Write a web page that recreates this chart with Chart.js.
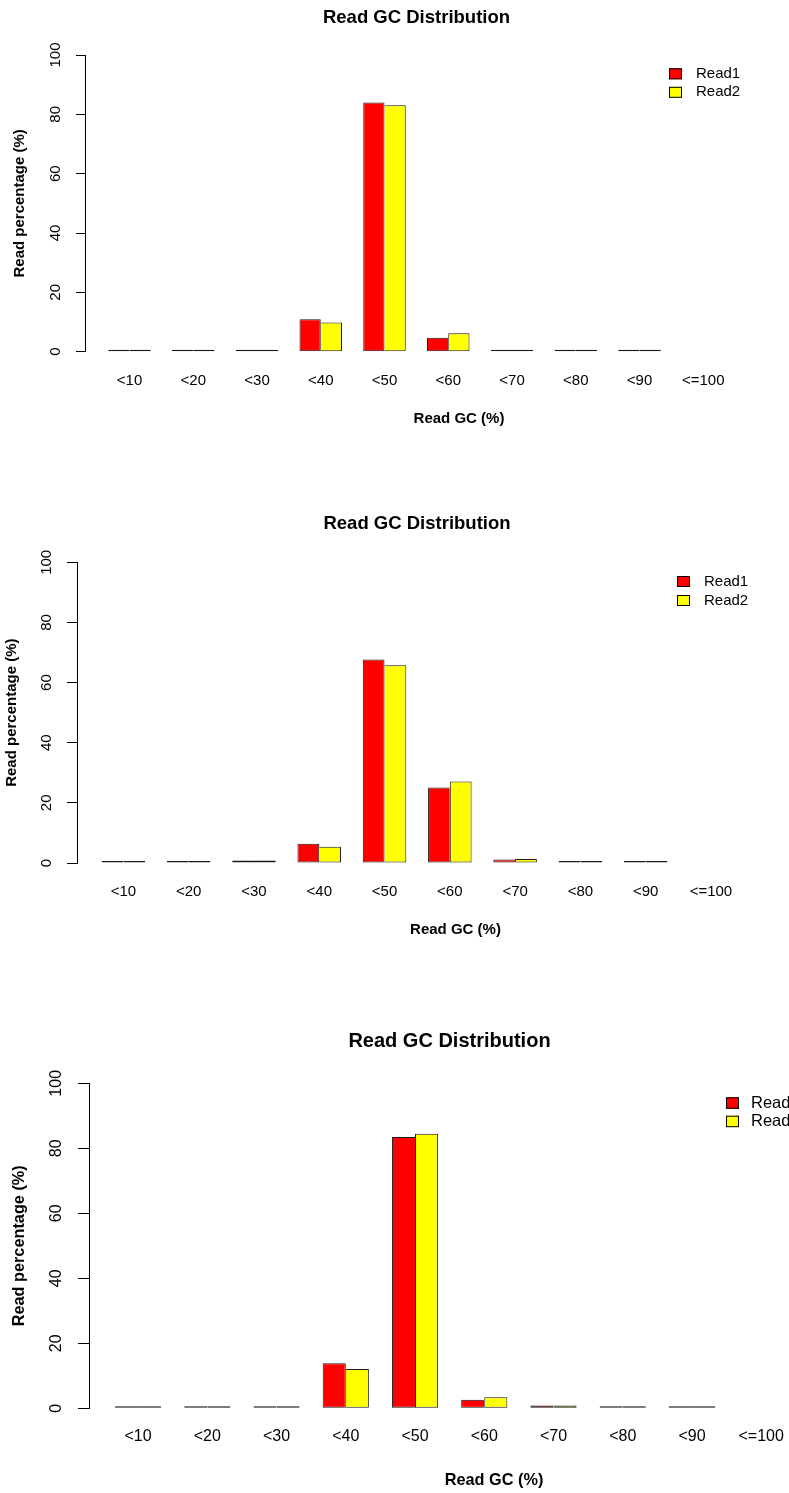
<!DOCTYPE html>
<html>
<head>
<meta charset="utf-8">
<script src="https://cdn.jsdelivr.net/npm/chart.js@4.4.1/dist/chart.umd.min.js"></script>
<style>
  html, body { margin: 0; padding: 0; background: #fff; overflow: hidden; width: 789px; height: 1493px; }
  .panel { position: absolute; left: 0; }
  canvas { display: block; }
</style>
</head>
<body>
<div class="panel" id="p1"><canvas id="c1"></canvas></div>
<div class="panel" id="p2"><canvas id="c2"></canvas></div>
<div class="panel" id="p3"><canvas id="c3"></canvas></div>
<script>
// GC-content bins shared by all three runs
const gcBins = ['<10', '<20', '<30', '<40', '<50', '<60', '<70', '<80', '<90', '<=100'];
const seriesNames = ['Read1', 'Read2'];
const yTicks = [0, 20, 40, 60, 80, 100];

// Percentage of reads per GC bin (last bin has no reads recorded)
const run1Read1 = [0.1, 0.15, 0.35, 10.9, 84.0, 4.7, 0.35, 0.05, 0.05, null];
const run1Read2 = [0.15, 0.2, 0.4, 9.8, 83.1, 6.2, 0.3, 0.05, 0.05, null];
const run2Read1 = [0.1, 0.1, 0.8, 6.4, 67.7, 25.1, 1.2, 0.05, 0.05, null];
const run2Read2 = [0.1, 0.2, 0.8, 5.4, 65.8, 27.1, 1.3, 0.05, 0.05, null];
const run3Read1 = [0.1, 0.15, 0.35, 13.9, 83.5, 2.6, 0.9, 0.05, 0.05, null];
const run3Read2 = [0.15, 0.2, 0.35, 12.1, 84.5, 3.4, 0.9, 0.05, 0.05, null];

const FAMILY = "'Liberation Sans', Arial, Helvetica, sans-serif";
Chart.defaults.font.family = FAMILY;
Chart.defaults.color = '#000';

// Page layout of each panel (pixels)
const layouts = [
  { id: 'c1', top: 0, width: 833, height: 428, chartLeft: 85, unit0: 87, unit: 21.25, tickLen: 9,
    tickSize: 15, titleSize: 18.5, axisSize: 15, titlePadTop: 6.9, titlePadBottom: 25.9,
    xAxisH: 76.3, xTickPad: 20.3, yTickPad: 7.5, yTitlePad: 11,
    legend: { x: 669, y: 68.3, w: 13, h: 11, gap: 18.5, textX: 696, size: 15 } },
  { id: 'c2', top: 480, width: 834, height: 459, chartLeft: 77, unit0: 79.9, unit: 21.76, tickLen: 10,
    tickSize: 15, titleSize: 18.5, axisSize: 15, titlePadTop: 32.9, titlePadBottom: 27.2,
    xAxisH: 76, xTickPad: 20, yTickPad: 8, yTitlePad: 3,
    legend: { x: 677, y: 96, w: 13, h: 11, gap: 19, textX: 704, size: 15 } },
  { id: 'c3', top: 1000, width: 899, height: 490, chartLeft: 89, unit0: 91.9, unit: 23.08, tickLen: 11,
    tickSize: 16, titleSize: 20, axisSize: 16.3, titlePadTop: 29, titlePadBottom: 30.3,
    xAxisH: 81.7, xTickPad: 19.1, yTickPad: 8, yTitlePad: 9.7,
    legend: { x: 726, y: 97.3, w: 13, h: 11.5, gap: 18.4, textX: 751, size: 16.5 } }
];

// Square legend drawn inside the plot, top-right
const boxLegend = {
  id: 'boxLegend',
  afterDraw(chart, args, o) {
    const ctx = chart.ctx;
    ctx.save();
    chart.data.datasets.forEach((ds, i) => {
      const y = o.y + i * o.gap;
      ctx.fillStyle = ds.backgroundColor;
      ctx.fillRect(o.x, y, o.w, o.h);
      ctx.strokeStyle = '#000';
      ctx.lineWidth = 1;
      ctx.strokeRect(o.x + 0.5, y + 0.5, o.w - 1, o.h - 1);
      ctx.fillStyle = '#000';
      ctx.font = o.size + 'px ' + FAMILY;
      ctx.textAlign = 'left';
      ctx.textBaseline = 'middle';
      ctx.fillText(ds.label, o.textX, y + o.h / 2);
    });
    ctx.restore();
  }
};

// Adjacent bars share a single outline: the taller bar keeps the common edge
function edgeWidths(a, b, first) {
  return ctx => {
    const va = a[ctx.dataIndex] ?? 0;
    const vb = b[ctx.dataIndex] ?? 0;
    return first
      ? { top: 1, bottom: 1, left: 1, right: va >= vb ? 1 : 0 }
      : { top: 1, bottom: 1, left: vb > va ? 1 : 0, right: 1 };
  };
}

function makePanel(L, read1, read2) {
  const canvas = document.getElementById(L.id);
  canvas.width = L.width;
  canvas.height = L.height;
  canvas.style.width = L.width + 'px';
  canvas.style.height = L.height + 'px';
  canvas.parentElement.style.top = L.top + 'px';

  // Group centres: two bars of width 1 per group, one unit of space between groups
  const mids = gcBins.map((_, i) => 3 * i + 2);
  const xMin = (L.chartLeft - L.unit0) / L.unit;
  const xMax = (L.width - L.unit0) / L.unit;

  const barCommon = {
    borderColor: '#1a1a1a',
    borderSkipped: false,
    minBarLength: 2,
    categoryPercentage: 2 / 3,
    barPercentage: 1
  };

  return new Chart(canvas, {
    type: 'bar',
    data: {
      labels: mids,
      datasets: [
        Object.assign({ label: seriesNames[0], data: read1, backgroundColor: '#ff0000',
          borderWidth: edgeWidths(read1, read2, true) }, barCommon),
        Object.assign({ label: seriesNames[1], data: read2, backgroundColor: '#ffff00',
          borderWidth: edgeWidths(read1, read2, false) }, barCommon)
      ]
    },
    options: {
      responsive: false,
      animation: false,
      devicePixelRatio: 1,
      layout: { padding: 0 },
      events: [],
      plugins: {
        legend: { display: false },
        tooltip: { enabled: false },
        title: {
          display: true,
          text: 'Read GC Distribution',
          color: '#000',
          font: { size: L.titleSize, weight: 'bold' },
          padding: { top: L.titlePadTop, bottom: L.titlePadBottom }
        },
        boxLegend: L.legend
      },
      scales: {
        x: {
          type: 'linear',
          min: xMin,
          max: xMax,
          bounds: 'data',
          offset: false,
          grid: { display: false, drawTicks: false, offset: false },
          border: { display: false },
          afterBuildTicks: s => { s.ticks = mids.map(v => ({ value: v })); },
          afterFit: s => { s.height = L.xAxisH; },
          ticks: {
            autoSkip: false,
            maxRotation: 0,
            minRotation: 0,
            padding: L.xTickPad,
            color: '#000',
            font: { size: L.tickSize },
            callback: (v, i) => gcBins[i]
          },
          title: {
            display: true,
            text: 'Read GC (%)',
            color: '#000',
            font: { size: L.axisSize, weight: 'bold' },
            padding: { top: 0, bottom: 0 }
          }
        },
        y: {
          min: 0,
          max: 100,
          afterBuildTicks: s => { s.ticks = yTicks.map(v => ({ value: v })); },
          afterFit: s => { s.width = L.chartLeft; },
          grid: { drawOnChartArea: false, drawTicks: true, tickLength: L.tickLen, color: '#000', lineWidth: 1 },
          border: { display: true, color: '#000', width: 1 },
          ticks: {
            autoSkip: false,
            minRotation: 90,
            maxRotation: 90,
            crossAlign: 'center',
            padding: L.yTickPad,
            color: '#000',
            font: { size: L.tickSize }
          },
          title: {
            display: true,
            text: 'Read percentage (%)',
            color: '#000',
            font: { size: L.axisSize, weight: 'bold' },
            padding: { top: L.yTitlePad, bottom: 0 }
          }
        }
      }
    },
    plugins: [boxLegend]
  });
}

makePanel(layouts[0], run1Read1, run1Read2);
makePanel(layouts[1], run2Read1, run2Read2);
makePanel(layouts[2], run3Read1, run3Read2);
</script>
</body>
</html>
